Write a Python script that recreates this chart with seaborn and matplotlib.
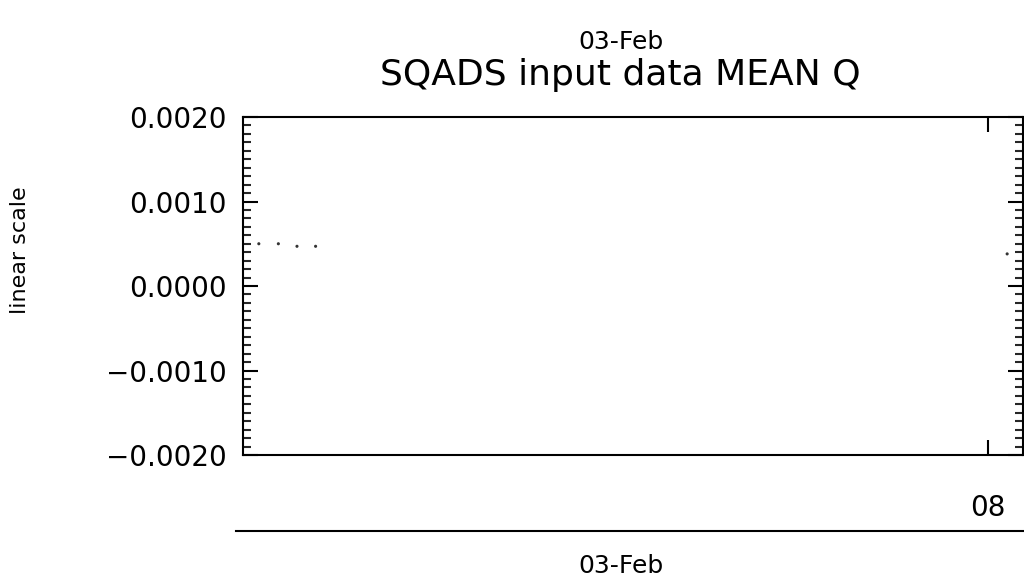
import matplotlib
matplotlib.use("Agg")
import matplotlib.pyplot as plt
import seaborn as sns
import pandas as pd
from matplotlib.ticker import MultipleLocator, FuncFormatter

# hours after 03-Feb 00:00, mean Q values
hours = [0.17, 0.38, 0.58, 0.78, 8.21]
mean_q = [0.00050, 0.00050, 0.00047, 0.00047, 0.00038]
date_label = "03-Feb"
title = "SQADS input data MEAN Q"
x_ticks = [8]
x_tick_labels = ["08"]
y_ticks = [-0.002, -0.001, 0.0, 0.001, 0.002]

df = pd.DataFrame({"hour": hours, "q": mean_q})

sns.set_style("ticks")
plt.rcParams["font.family"] = ["DejaVu Sans"]
plt.rcParams["text.color"] = "black"

fig = plt.figure(figsize=(10.24, 5.85), dpi=100)
ax = fig.add_axes([0.2373, 0.2222, 0.7617, 0.5778])

sns.scatterplot(data=df, x="hour", y="q", ax=ax, color="#333333",
                s=5, marker="o", edgecolor="none", legend=False)

ax.set_xlim(0, 8.38)
ax.set_ylim(-0.002, 0.002)
ax.set_xticks(x_ticks)
ax.set_xticklabels(x_tick_labels)
ax.set_yticks(y_ticks)
ax.yaxis.set_minor_locator(MultipleLocator(0.0001))
ax.yaxis.set_major_formatter(FuncFormatter(lambda v, p: f"{v:.4f}".replace("-", "\u2212")))
ax.tick_params(axis="both", which="major", direction="in", length=11, width=1.5,
               top=True, right=True, labelsize=20, colors="black")
ax.tick_params(axis="x", which="major", pad=28)
ax.tick_params(axis="y", which="major", pad=12)
ax.tick_params(axis="y", which="minor", direction="in", length=6, width=1.5,
               left=True, right=True)
for s in ax.spines.values():
    s.set_linewidth(1.5)
    s.set_color("black")
ax.set_xlabel("")
ax.set_ylabel("")
fig.text(0.02, 0.573, "linear scale", rotation=90, ha="center", va="center",
         fontsize=16, color="black")

# second level of the date axis
ax2 = fig.add_axes([0.2305, 0.092, 0.7695, 0.001])
for side in ["top", "left", "right"]:
    ax2.spines[side].set_visible(False)
ax2.spines["bottom"].set_linewidth(1.5)
ax2.spines["bottom"].set_color("black")
ax2.set_xticks([])
ax2.set_yticks([])
ax2.patch.set_alpha(0)

fig.text(0.606, 0.033, date_label, ha="center", va="center", fontsize=18, color="black")
fig.text(0.606, 0.928, date_label, ha="center", va="center", fontsize=18, color="black")
fig.text(0.606, 0.872, title, ha="center", va="center", fontsize=26, color="black")

fig.savefig("out.png", dpi=100)
